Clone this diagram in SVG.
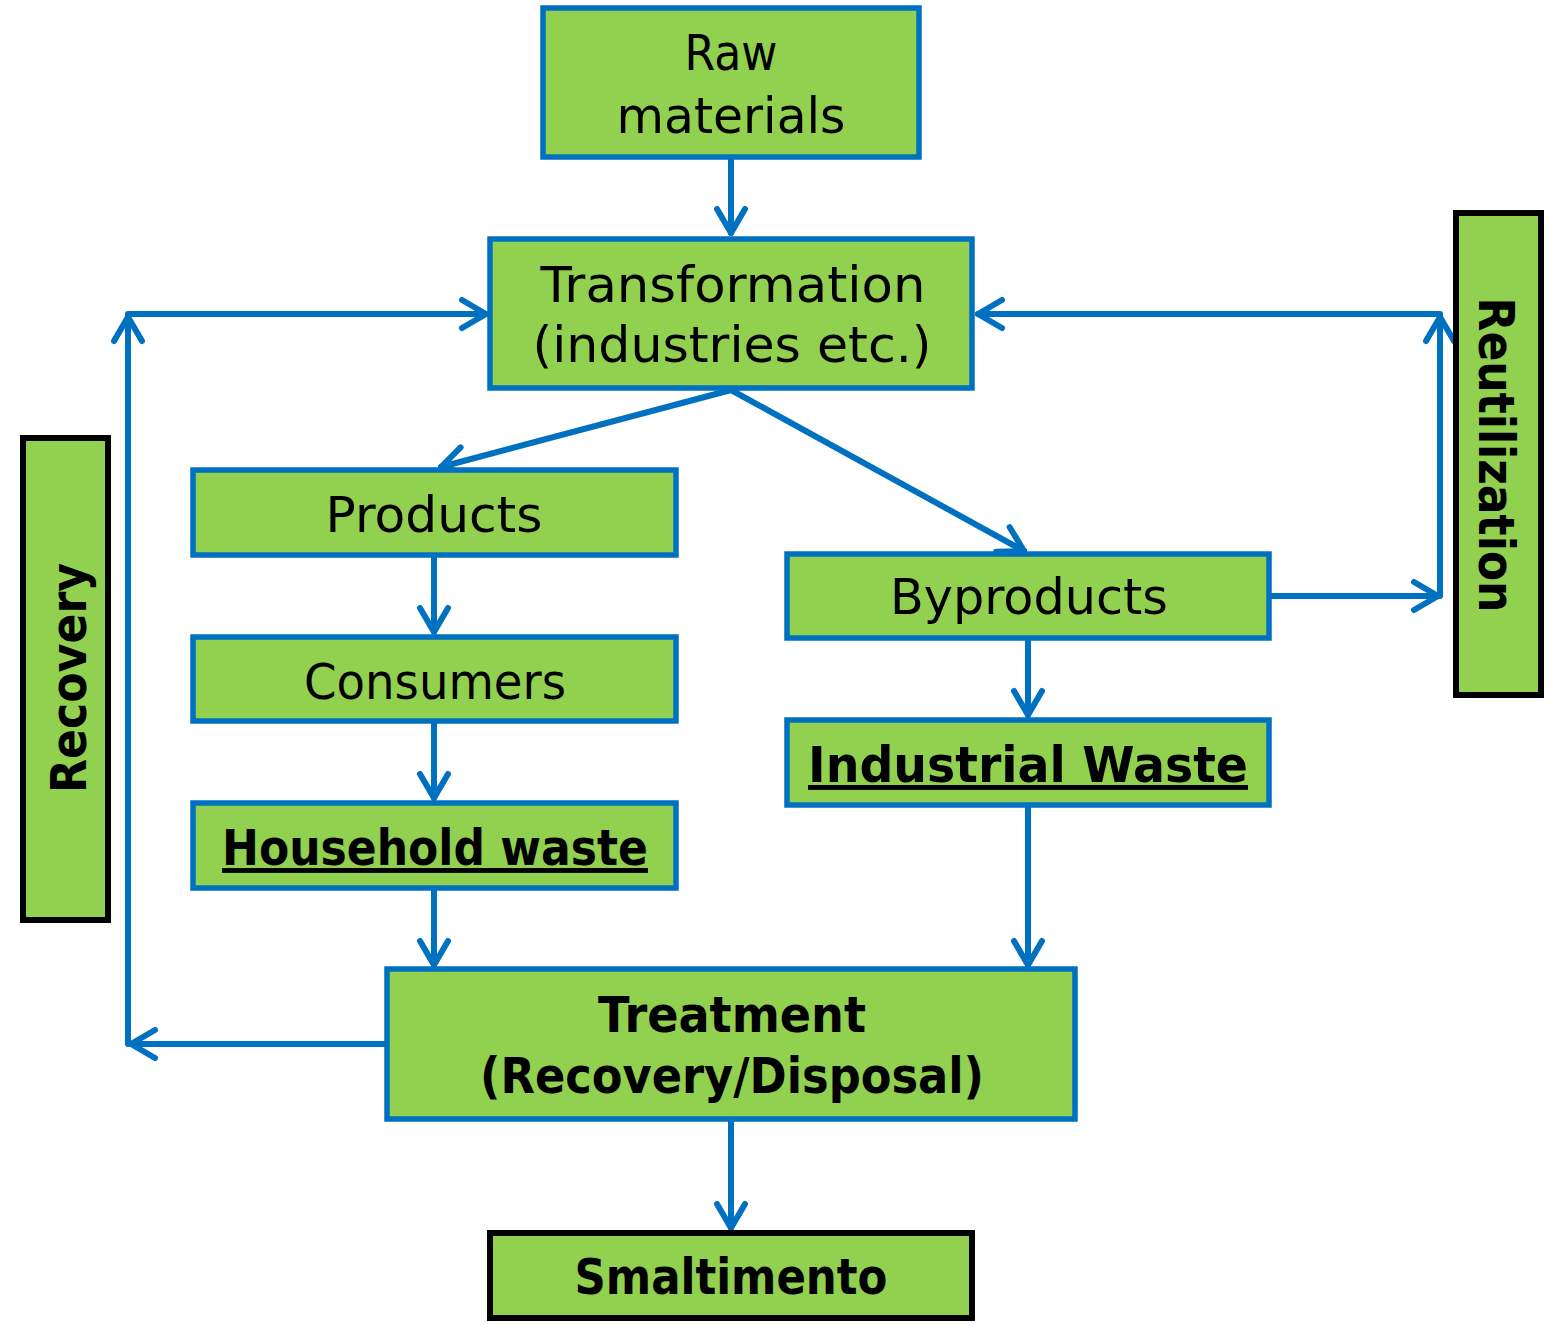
<svg xmlns="http://www.w3.org/2000/svg" width="1550" height="1325" viewBox="0 0 1550 1325">
<style>
.box{fill:#92D050;stroke:#0070C0;stroke-width:5.5}
.bbox{fill:#92D050;stroke:#000;stroke-width:6}
.t{font-family:"DejaVu Sans","Liberation Sans",sans-serif;font-size:49px;fill:#000;text-anchor:middle}
.b{font-weight:bold}
.u{text-decoration:underline}
.c{fill:none;stroke:#0070C0;stroke-width:6;stroke-linecap:round;stroke-linejoin:round}
</style>
<defs>
<marker id="ah" markerUnits="userSpaceOnUse" markerWidth="40" markerHeight="40" viewBox="-30 -20 40 40" refX="0" refY="0" orient="auto" overflow="visible">
<path d="M-24,-14 L0,0 L-24,14" fill="none" stroke="#0070C0" stroke-width="6" stroke-linecap="round" stroke-linejoin="round"/>
</marker>
</defs>
<g id="connectors">
<path class="c" d="M731,157 L731,233" marker-end="url(#ah)"/>
<path class="c" d="M731,390 L441,467" marker-end="url(#ah)"/>
<path class="c" d="M731,390 L1024,551" marker-end="url(#ah)"/>
<path class="c" d="M434,555 L434,632" marker-end="url(#ah)"/>
<path class="c" d="M434,721 L434,798" marker-end="url(#ah)"/>
<path class="c" d="M434,888 L434,965" marker-end="url(#ah)"/>
<path class="c" d="M1028,638 L1028,715" marker-end="url(#ah)"/>
<path class="c" d="M1028,805 L1028,965" marker-end="url(#ah)"/>
<path class="c" d="M731,1119 L731,1228" marker-end="url(#ah)"/>
<path class="c" d="M387,1044 L131,1044" marker-end="url(#ah)"/>
<path class="c" d="M128,1044 L128,317" marker-end="url(#ah)"/>
<path class="c" d="M128,314 L486,314" marker-end="url(#ah)"/>
<path class="c" d="M1269,596 L1438,596" marker-end="url(#ah)"/>
<path class="c" d="M1440,596 L1440,317" marker-end="url(#ah)"/>
<path class="c" d="M1440,314 L978,314" marker-end="url(#ah)"/>
</g>
<g id="raw">
<rect class="box" x="543" y="8" width="376" height="149"/>
<text class="t" x="731" y="70" textLength="93" lengthAdjust="spacingAndGlyphs">Raw</text>
<text class="t" x="731" y="133" textLength="229" lengthAdjust="spacingAndGlyphs">materials</text>
</g>
<g id="transformation">
<rect class="box" x="490" y="239" width="482" height="149"/>
<text class="t" x="733" y="302" textLength="385" lengthAdjust="spacingAndGlyphs">Transformation</text>
<text class="t" x="732" y="362" textLength="399" lengthAdjust="spacingAndGlyphs">(industries etc.)</text>
</g>
<g id="products">
<rect class="box" x="193" y="470" width="483" height="85"/>
<text class="t" x="434" y="532" textLength="217" lengthAdjust="spacingAndGlyphs">Products</text>
</g>
<g id="consumers">
<rect class="box" x="193" y="637" width="483" height="84"/>
<text class="t" x="435" y="699" textLength="262" lengthAdjust="spacingAndGlyphs">Consumers</text>
</g>
<g id="household">
<rect class="box" x="193" y="803" width="483" height="85"/>
<text class="t b u" x="435" y="865" textLength="426" lengthAdjust="spacingAndGlyphs">Household waste</text>
</g>
<g id="byproducts">
<rect class="box" x="787" y="554" width="482" height="84"/>
<text class="t" x="1029" y="614" textLength="278" lengthAdjust="spacingAndGlyphs">Byproducts</text>
</g>
<g id="industrial">
<rect class="box" x="787" y="720" width="482" height="85"/>
<text class="t b u" x="1028" y="782" textLength="440" lengthAdjust="spacingAndGlyphs">Industrial Waste</text>
</g>
<g id="treatment">
<rect class="box" x="387" y="969" width="688" height="150"/>
<text class="t b" x="732" y="1032" textLength="268" lengthAdjust="spacingAndGlyphs">Treatment</text>
<text class="t b" x="732" y="1093" textLength="504" lengthAdjust="spacingAndGlyphs">(Recovery/Disposal)</text>
</g>
<g id="smaltimento">
<rect class="bbox" x="490" y="1233" width="482" height="85"/>
<text class="t b" x="731" y="1294" textLength="313" lengthAdjust="spacingAndGlyphs">Smaltimento</text>
</g>
<g id="recovery">
<rect class="bbox" x="23" y="438" width="85" height="482"/>
<text class="t b" transform="translate(86,678) rotate(-90)" textLength="230" lengthAdjust="spacingAndGlyphs">Recovery</text>
</g>
<g id="reutilization">
<rect class="bbox" x="1456" y="213" width="85" height="482"/>
<text class="t b" transform="translate(1479,455) rotate(90)" textLength="315" lengthAdjust="spacingAndGlyphs">Reutilization</text>
</g>
</svg>
